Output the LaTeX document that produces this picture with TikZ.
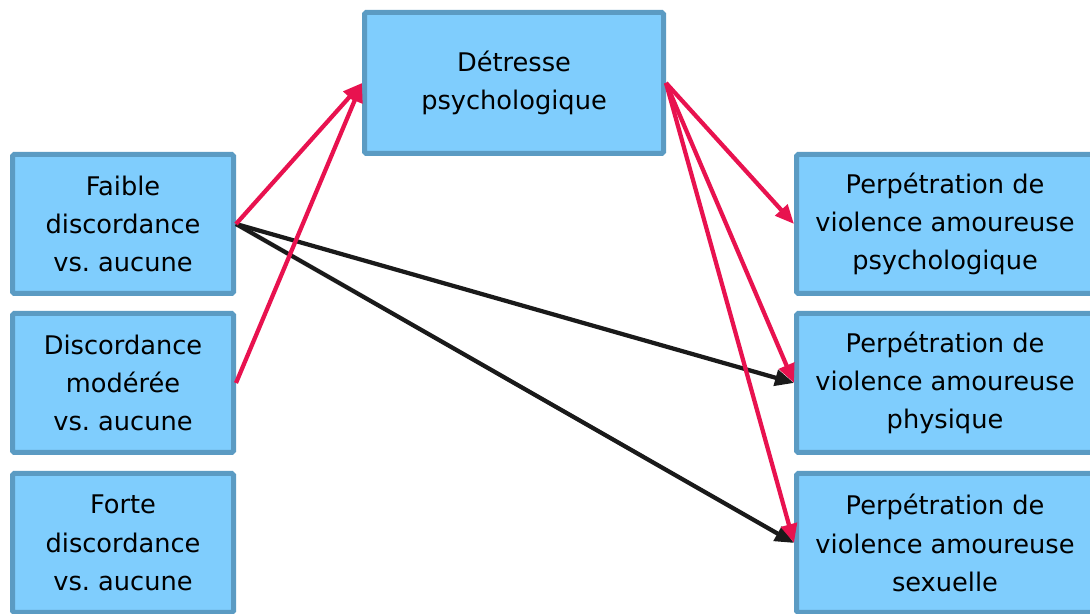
\documentclass[tikz,border=0pt]{standalone}
\usepackage{fontspec}
\setmainfont{DejaVu Sans}
\usetikzlibrary{arrows.meta, positioning}

\definecolor{boxfill}{HTML}{7FCDFD}
\definecolor{boxline}{HTML}{5B9BC3}
\definecolor{redline}{HTML}{E8124F}
\definecolor{blackline}{HTML}{1A1A1A}

\frenchspacing

\begin{document}
\begin{tikzpicture}[
        box/.style={draw=boxline, fill=boxfill, line width=0.1cm, rounded corners=1pt,
            align=center, inner sep=0pt, font=\fontsize{14.6}{21.8}\selectfont},
        leftbox/.style={box, minimum width=4.42cm, minimum height=2.78cm},
        rightbox/.style={box, minimum width=5.94cm, minimum height=2.78cm},
        link/.style={line width=0.085cm, -{Triangle[length=0.38cm, width=0.32cm]}},
    ]
    \clip (0,0) rectangle (21.8,12.28);
    \useasboundingbox (0,0) rectangle (21.8,12.28);

    \node[box, minimum width=5.98cm, minimum height=2.82cm] (detresse) at (10.28,10.62) {Détresse\\psychologique};

    \node[leftbox] (faible) at (2.46,7.8) {Faible\\discordance\\vs. aucune};
    \node[leftbox] (moderee) at (2.46,4.62) {Discordance\\modérée\\vs. aucune};
    \node[leftbox] (forte) at (2.46,1.42) {Forte\\discordance\\vs. aucune};

    \node[rightbox] (psy) at (18.9,7.8) {Perpétration de\\violence amoureuse\\psychologique};
    \node[rightbox] (phy) at (18.9,4.62) {Perpétration de\\violence amoureuse\\physique};
    \node[rightbox] (sex) at (18.9,1.42) {Perpétration de\\violence amoureuse\\sexuelle};

    % effets directs
    \draw[link, blackline] (faible.east) -- (phy.west);
    \draw[link, blackline] (faible.east) -- (sex.west);

    % mediation
    \draw[link, redline] (faible.east) -- (detresse.west);
    \draw[link, redline] (moderee.east) -- (detresse.west);
    \draw[link, redline] (detresse.east) -- (psy.west);
    \draw[link, redline] (detresse.east) -- (phy.west);
    \draw[link, redline] (detresse.east) -- (sex.west);
\end{tikzpicture}
\end{document}
